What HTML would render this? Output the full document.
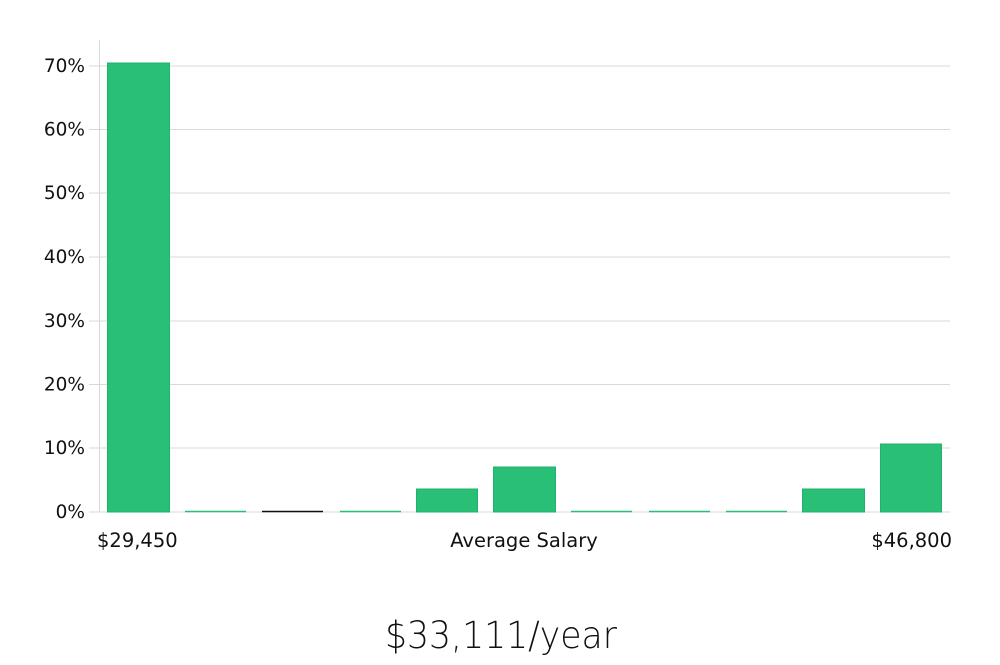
<!DOCTYPE html>
<html><head><style>body{margin:0;background:#fff}</style></head><body>
<svg width="1000" height="660" xmlns="http://www.w3.org/2000/svg" font-family="DejaVu Sans, sans-serif">
<rect width="1000" height="660" fill="#fff"/>
<g stroke="#d9d9d9" stroke-width="1">
<line x1="89" y1="66" x2="950" y2="66"/><line x1="89" y1="129.5" x2="950" y2="129.5"/>
<line x1="89" y1="193" x2="950" y2="193"/><line x1="89" y1="257" x2="950" y2="257"/>
<line x1="89" y1="321" x2="950" y2="321"/><line x1="89" y1="384.5" x2="950" y2="384.5"/>
<line x1="89" y1="448" x2="950" y2="448"/><line x1="89" y1="512" x2="950" y2="512"/>
<line x1="99.5" y1="40" x2="99.5" y2="512"/>
</g>
<g font-size="18.5" fill="#111" text-anchor="end">
<text x="85" y="72">70%</text><text x="85" y="135.5">60%</text><text x="85" y="199">50%</text>
<text x="85" y="263">40%</text><text x="85" y="327">30%</text><text x="85" y="390.5">20%</text>
<text x="85" y="454">10%</text><text x="85" y="518">0%</text>
</g>
<g fill="#2abf76" stroke="#1fb36a" stroke-width="1">
<rect x="107.5" y="63" width="62" height="449"/>
<rect x="416.5" y="489" width="61" height="23"/>
<rect x="493.5" y="467" width="62" height="45"/>
<rect x="802.5" y="489" width="62" height="23"/>
<rect x="880.5" y="444" width="61" height="68"/>
</g>
<g stroke-width="1.5">
<line x1="185" y1="511.5" x2="246" y2="511.5" stroke="#2abf76"/>
<line x1="262" y1="511.5" x2="323" y2="511.5" stroke="#111"/>
<line x1="340" y1="511.5" x2="401" y2="511.5" stroke="#2abf76"/>
<line x1="571" y1="511.5" x2="632" y2="511.5" stroke="#2abf76"/>
<line x1="649" y1="511.5" x2="710" y2="511.5" stroke="#2abf76"/>
<line x1="726" y1="511.5" x2="787" y2="511.5" stroke="#2abf76"/>
</g>
<g font-size="19.5" fill="#111">
<text x="97" y="547">$29,450</text>
<text x="524" y="547" text-anchor="middle">Average Salary</text>
<text x="952" y="547" text-anchor="end">$46,800</text>
</g>
<text x="501" y="648" text-anchor="middle" font-size="37" font-weight="300" font-family="DejaVu Sans, sans-serif" fill="#111" textLength="232" lengthAdjust="spacingAndGlyphs">$33,111/year</text>
</svg>
</body></html>
